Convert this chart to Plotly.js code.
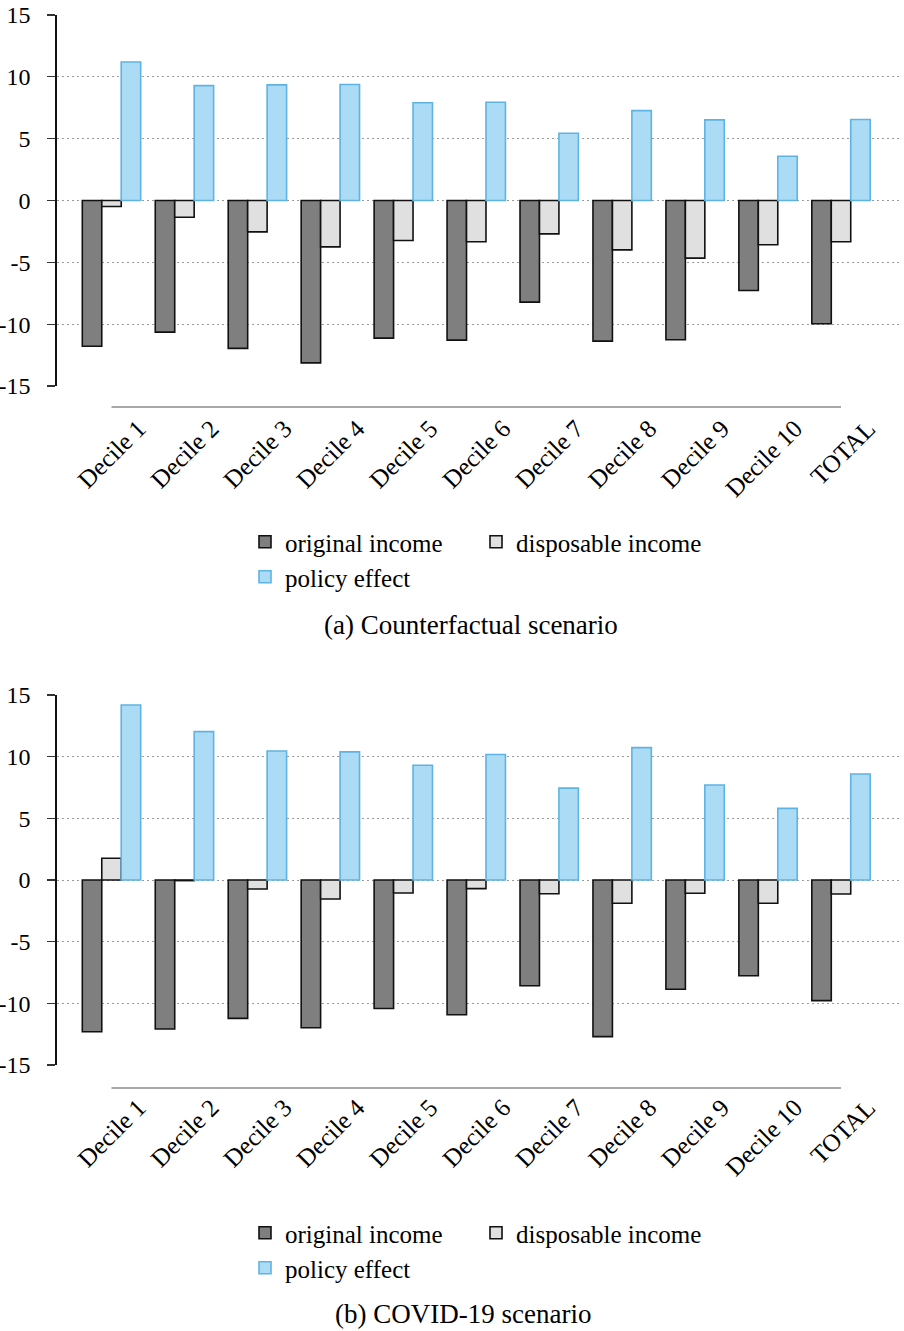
<!DOCTYPE html>
<html>
<head>
<meta charset="utf-8">
<script src="https://cdn.plot.ly/plotly-3.0.1.min.js"></script>
<style>
  html, body { margin: 0; padding: 0; background: #ffffff; }
  #chart { width: 904px; height: 1331px; }
</style>
</head>
<body>
<div id="chart"></div>
<script>
// ---- data ----
const categories = ['Decile 1', 'Decile 2', 'Decile 3', 'Decile 4', 'Decile 5', 'Decile 6',
                    'Decile 7', 'Decile 8', 'Decile 9', 'Decile 10', 'TOTAL'];
const seriesNames = ['original income', 'disposable income', 'policy effect'];

// (a) Counterfactual scenario
const originalA   = [-11.78, -10.64, -11.96, -13.13, -11.13, -11.29, -8.22, -11.37, -11.26, -7.28, -9.97];
const disposableA = [-0.48, -1.36, -2.54, -3.75, -3.23, -3.34, -2.70, -3.99, -4.66, -3.58, -3.34];
const policyA     = [11.20, 9.29, 9.35, 9.38, 7.90, 7.95, 5.44, 7.27, 6.52, 3.58, 6.55];

// (b) COVID-19 scenario
const originalB   = [-12.30, -12.08, -11.22, -11.98, -10.42, -10.93, -8.58, -12.70, -8.86, -7.76, -9.78];
const disposableB = [1.76, -0.05, -0.73, -1.54, -1.05, -0.70, -1.11, -1.89, -1.08, -1.89, -1.14];
const policyB     = [14.19, 12.03, 10.46, 10.39, 9.31, 10.18, 7.45, 10.73, 7.70, 5.81, 8.59];

const yTickVals = [-15, -10, -5, 0, 5, 10, 15];
const captionA = '(a) Counterfactual scenario';
const captionB = '(b) COVID-19 scenario';

// ---- styles ----
const FONT = 'Liberation Serif, Times New Roman, serif';
const styles = [
  { fill: '#7f7f7f', line: '#111111' },
  { fill: '#e0e0e0', line: '#111111' },
  { fill: '#acdcf5', line: '#5fb3e2' }
];

const W = 904, H = 1331;
const ML = 57, MR = 5;
const PW = W - ML - MR;
const py = v => 1 - v / H;          // pixel row -> paper fraction (no top/bottom margin)
const px = v => (v - ML) / PW;      // pixel column -> paper fraction

function makeTraces(vals, xa, ya, legends) {
  return vals.map((v, i) => ({
    type: 'bar',
    name: seriesNames[i],
    x: categories,
    y: v,
    xaxis: xa,
    yaxis: ya,
    legend: legends[i],
    marker: { color: styles[i].fill, line: { color: styles[i].line, width: 1.6 } },
    hoverinfo: 'x+y+name'
  }));
}

const traces = []
  .concat(makeTraces([originalA, disposableA, policyA], 'x', 'y', ['legend', 'legend', 'legend3']))
  .concat(makeTraces([originalB, disposableB, policyB], 'x2', 'y2', ['legend2', 'legend2', 'legend4']));

const xRange = [-0.747, 10.795];

function xAxis(anchor) {
  return {
    type: 'category',
    anchor: anchor,
    domain: [0, 1],
    range: xRange,
    showline: false,
    showgrid: false,
    zeroline: false,
    ticks: '',
    tickangle: -45,
    ticklabelshift: 27,
    ticklabelstandoff: 22,
    tickfont: { family: FONT, size: 25, color: '#000' },
    fixedrange: true
  };
}
function yAxis(anchor, dom) {
  return {
    anchor: anchor,
    domain: dom,
    range: [-15, 15],
    tickvals: yTickVals,
    ticktext: yTickVals.map(String),
    showline: true,
    linecolor: '#111',
    linewidth: 1.6,
    ticks: 'outside',
    ticklen: 8,
    tickwidth: 1.3,
    tickcolor: '#333',
    ticklabelstandoff: 12,
    showgrid: true,
    gridcolor: '#9a9a9a',
    gridwidth: 1,
    griddash: '1.5px,3.5px',
    zeroline: false,
    tickfont: { family: FONT, size: 24, color: '#000' },
    fixedrange: true
  };
}

function legendBox(yPix) {
  return {
    orientation: 'h',
    xref: 'paper', yref: 'paper',
    x: px(245), xanchor: 'left',
    y: py(yPix), yanchor: 'middle',
    entrywidth: 186,
    entrywidthmode: 'pixels',
    font: { family: FONT, size: 25, color: '#000' },
    bgcolor: 'rgba(0,0,0,0)',
    borderwidth: 0,
    itemclick: false,
    itemdoubleclick: false
  };
}

const layout = {
  width: W, height: H,
  margin: { l: ML, r: MR, t: 0, b: 0, autoexpand: false },
  paper_bgcolor: '#ffffff',
  plot_bgcolor: '#ffffff',
  barmode: 'group',
  bargap: 0.2,
  bargroupgap: 0,
  font: { family: FONT, color: '#000' },
  xaxis: xAxis('y'),
  yaxis: yAxis('x', [py(386), py(15)]),
  xaxis2: xAxis('y2'),
  yaxis2: yAxis('x2', [py(1065), py(695)]),
  legend: legendBox(542),
  legend3: legendBox(577),
  legend2: legendBox(1233),
  legend4: legendBox(1268),
  shapes: [
    { type: 'line', xref: 'x', yref: 'paper',
      x0: categories[0], x1: categories[categories.length - 1],
      y0: py(407), y1: py(407),
      line: { color: '#a8a8a8', width: 2 } },
    { type: 'line', xref: 'x2', yref: 'paper',
      x0: categories[0], x1: categories[categories.length - 1],
      y0: py(1088), y1: py(1088),
      line: { color: '#a8a8a8', width: 2 } }
  ],
  annotations: [
    { text: captionA, xref: 'paper', yref: 'paper', x: px(471), y: py(625),
      xanchor: 'center', yanchor: 'middle', showarrow: false,
      font: { family: FONT, size: 27, color: '#000' } },
    { text: captionB, xref: 'paper', yref: 'paper', x: px(463), y: py(1314),
      xanchor: 'center', yanchor: 'middle', showarrow: false,
      font: { family: FONT, size: 27, color: '#000' } }
  ],
  showlegend: true
};

Plotly.newPlot('chart', traces, layout, { displayModeBar: false, staticPlot: true });
</script>
</body>
</html>
